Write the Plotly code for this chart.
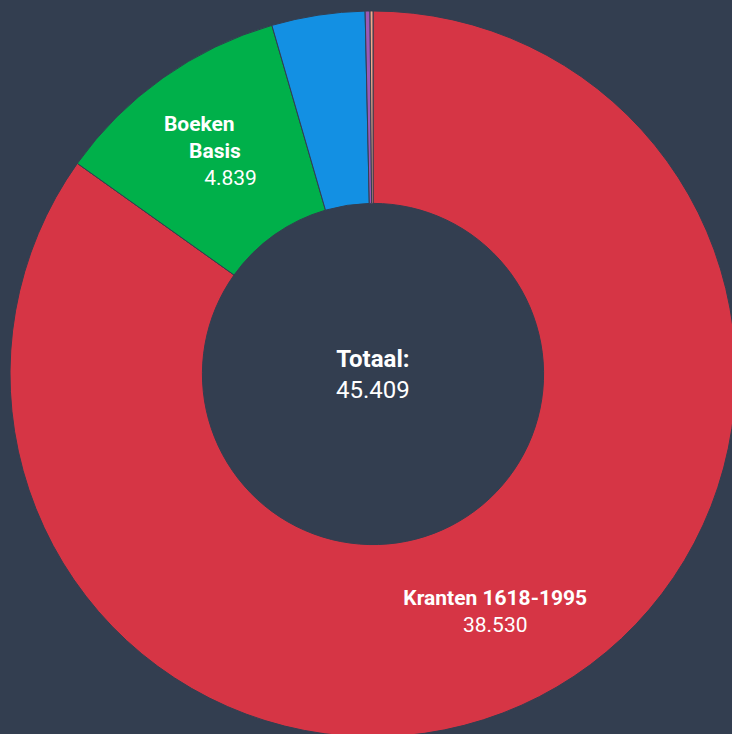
import plotly.graph_objects as go

labels = ["Kranten 1618-1995", "Boeken Basis", "Tijdschriften", "Radiobulletins", "Overig"]
values = [38530, 4839, 1883, 98, 59]
colors = ["#d63545", "#00b04a", "#1390e3", "#9b59b6", "#f4a58a"]
total_label = "Totaal:"
total_value = sum(values)

BG = "#333e50"
NB = "\u00a0" * 6

w1, w2 = labels[1].split(" ")
templates = [
    "<b>%{label}</b><br>%{value:,}",
    f"<b>{w1}{NB}</b><br><b>{w2}</b><br>{NB}%{{value:,}}",
    "", "", "",
]

fig = go.Figure(go.Pie(
    labels=labels,
    values=values,
    hole=0.47,
    sort=False,
    direction="clockwise",
    rotation=0,
    marker=dict(colors=colors, line=dict(color=BG, width=1)),
    texttemplate=templates,
    textposition="inside",
    insidetextorientation="horizontal",
    textfont=dict(family="Roboto", size=21, color="white"),
    showlegend=False,
))

fig.add_annotation(
    text=f"<b>{total_label}</b><br>{total_value:,}".replace(",", "."),
    x=0.5, y=0.5, xref="paper", yref="paper", showarrow=False,
    font=dict(family="Roboto", size=24, color="white"),
)

fig.update_layout(
    width=736, height=737,
    margin=dict(l=10, t=11, r=0, b=0),
    paper_bgcolor=BG,
    plot_bgcolor=BG,
    separators=",.",
)

fig.write_html(
    "out.html",
    config={"displayModeBar": False},
    post_script="document.body.style.margin='0';document.body.style.overflow='hidden';document.body.style.background='%s';" % BG,
)
